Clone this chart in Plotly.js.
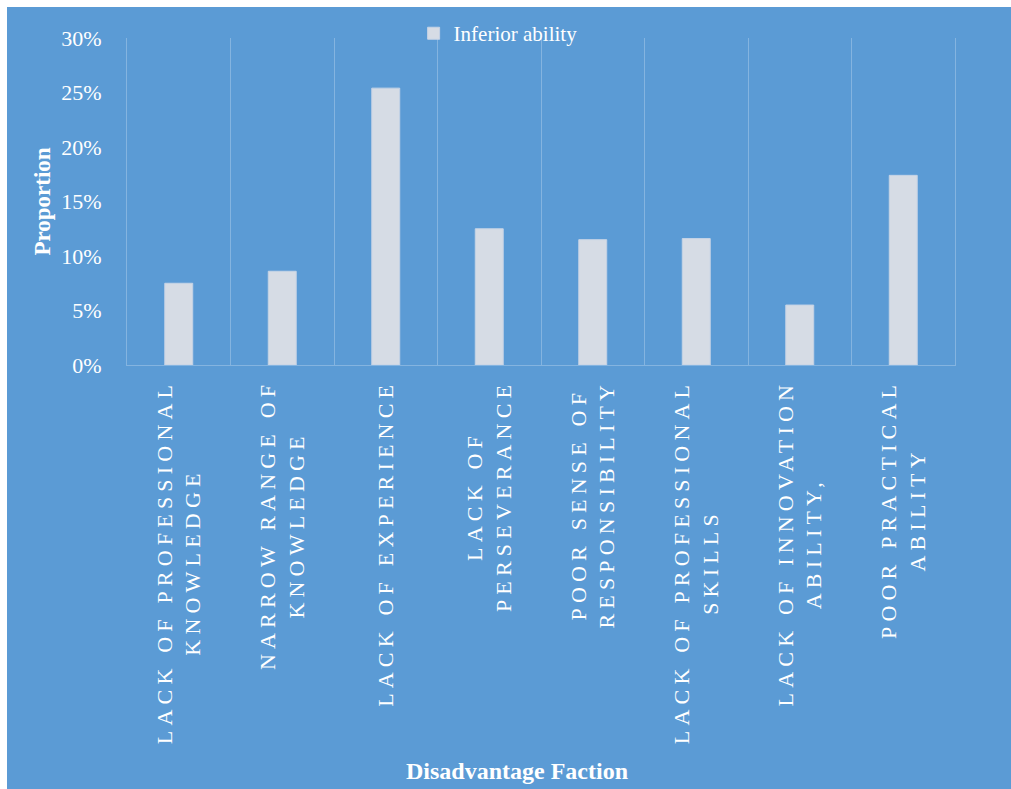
<!DOCTYPE html>
<html>
<head>
<meta charset="utf-8">
<script src="https://cdn.plot.ly/plotly-3.0.1.min.js"></script>
<style>
  html, body { margin: 0; padding: 0; background: #ffffff; width: 1011px; height: 789px; overflow: hidden; }
  #chart { position: absolute; left: 7px; top: 7px; width: 1004px; height: 782px; }
  .xtick text { letter-spacing: 5.2px; }
</style>
</head>
<body>
<div id="chart"></div>
<script>
const categories = [
  "LACK OF PROFESSIONAL<br>KNOWLEDGE",
  "NARROW RANGE OF<br>KNOWLEDGE",
  "LACK OF EXPERIENCE",
  "LACK OF<br>PERSEVERANCE",
  "POOR SENSE OF<br>RESPONSIBILITY",
  "LACK OF PROFESSIONAL<br>SKILLS",
  "LACK OF INNOVATION<br>ABILITY,",
  "POOR PRACTICAL<br>ABILITY"
];
const inferiorAbility = [0.075, 0.086, 0.254, 0.125, 0.115, 0.116, 0.055, 0.174];
const seriesName = "Inferior ability";
const yTickVals = [0, 0.05, 0.10, 0.15, 0.20, 0.25, 0.30];
const yTickText = ["0%", "5%", "10%", "15%", "20%", "25%", "30%"];

const BG = "#5B9BD5";
const GRID = "#84B4E0";
const BAR = "#D6DCE5";
const FONT = "Liberation Serif, Times New Roman, serif";

const trace = {
  type: "bar",
  x: categories,
  y: inferiorAbility,
  name: seriesName,
  marker: { color: BAR, line: { color: "#C5D3E6", width: 1 } },
  width: 0.27,
  showlegend: true,
  hoverinfo: "skip"
};

const layout = {
  width: 1004,
  height: 782,
  paper_bgcolor: BG,
  plot_bgcolor: BG,
  margin: { l: 120, r: 56, t: 31, b: 424, autoexpand: false },
  font: { family: FONT, color: "#ffffff", size: 20 },
  showlegend: true,
  legend: {
    orientation: "h",
    xref: "container", yref: "container",
    x: 0.405, xanchor: "left",
    y: 0.966, yanchor: "middle",
    bgcolor: "rgba(0,0,0,0)",
    font: { family: FONT, size: 21, color: "#ffffff" }
  },
  bargap: 0.73,
  xaxis: {
    type: "category",
    range: [-0.5, 7.5],
    showgrid: true,
    gridcolor: GRID,
    gridwidth: 1,
    tickson: "boundaries",
    ticks: "",
    showline: true,
    linecolor: GRID,
    linewidth: 1,
    tickangle: -90,
    ticklabelstandoff: 5,
    tickfont: { family: FONT, size: 22, color: "#ffffff" },
    automargin: false,
    fixedrange: true
  },
  yaxis: {
    range: [0, 0.30],
    tickvals: yTickVals,
    ticktext: yTickText,
    showgrid: false,
    zeroline: false,
    showline: true,
    mirror: true,
    linecolor: GRID,
    linewidth: 1,
    ticks: "",
    ticklabelstandoff: 20,
    tickfont: { family: FONT, size: 22, color: "#ffffff" },
    title: { text: "<b>Proportion</b>", font: { family: FONT, size: 23, color: "#ffffff" }, standoff: 4 },
    automargin: false,
    fixedrange: true
  },
  annotations: [{
    text: "<b>Disadvantage Faction</b>",
    xref: "paper", yref: "paper",
    x: 0.471, y: -1.2416,
    xanchor: "center", yanchor: "middle",
    showarrow: false,
    font: { family: FONT, size: 24, color: "#ffffff" }
  }]
};

Plotly.newPlot("chart", [trace], layout, { displayModeBar: false, staticPlot: true }).then(function () {
  document.querySelectorAll(".xtick text").forEach(function (t) {
    const lines = t.querySelectorAll("tspan.line");
    if (lines.length < 2) return;
    const x0 = parseFloat(t.getAttribute("x"));
    let maxLen = 0;
    lines.forEach(function (s) { maxLen = Math.max(maxLen, s.getComputedTextLength()); });
    t.setAttribute("text-anchor", "middle");
    lines.forEach(function (s) { s.setAttribute("x", x0 - maxLen / 2); });
  });
});
</script>
</body>
</html>
